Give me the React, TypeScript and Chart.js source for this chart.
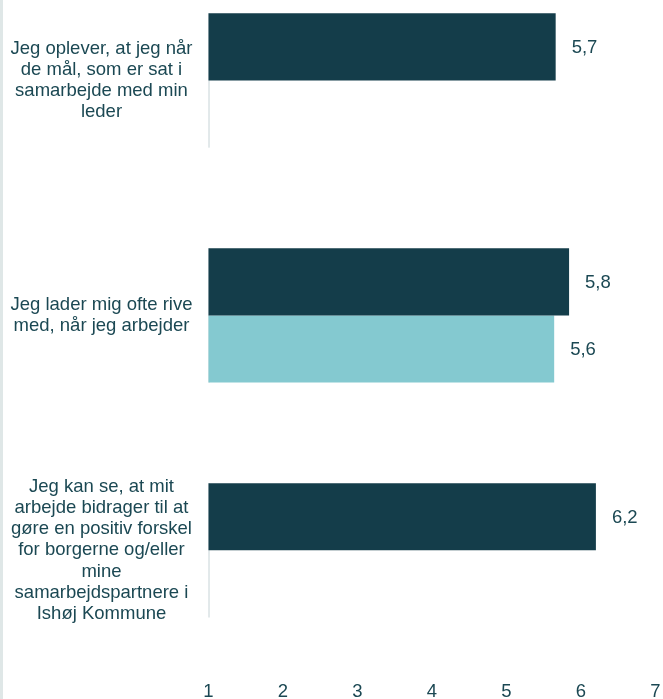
import React, { useEffect, useRef } from "react";
import { Chart, registerables } from "chart.js";

Chart.register(...registerables);

const categories: string[][] = [
  ["Jeg oplever, at jeg når", "de mål, som er sat i", "samarbejde med min", "leder"],
  ["Jeg lader mig ofte rive", "med, når jeg arbejder"],
  [
    "Jeg kan se, at mit",
    "arbejde bidrager til at",
    "gøre en positiv forskel",
    "for borgerne og/eller",
    "mine",
    "samarbejdspartnere i",
    "Ishøj Kommune",
  ],
];
const seriesDark: (number | null)[] = [5.66, 5.84, 6.2];
const seriesLight: (number | null)[] = [null, 5.64, null];
const xTicks: number[] = [1, 2, 3, 4, 5, 6, 7];

const TEXT = "#1b4853";
const FONT = "'Liberation Sans', Arial, sans-serif";

const valueLabels = {
  id: "valueLabels",
  afterDatasetsDraw(chart: any) {
    const ctx = chart.ctx;
    ctx.save();
    ctx.font = `18.5px ${FONT}`;
    ctx.fillStyle = TEXT;
    ctx.textAlign = "left";
    ctx.textBaseline = "middle";
    chart.data.datasets.forEach((ds: any, di: number) => {
      const meta = chart.getDatasetMeta(di);
      meta.data.forEach((el: any, i: number) => {
        const v = ds.data[i];
        if (v === null || v === undefined) return;
        ctx.fillText(v.toFixed(1).replace(".", ","), el.x + 16, el.y + 1);
      });
    });
    ctx.restore();
  },
};

const axisSegments = {
  id: "axisSegments",
  beforeDatasetsDraw(chart: any) {
    const ctx = chart.ctx;
    const ys = chart.scales.y;
    const band = Math.abs(ys.getPixelForValue(1) - ys.getPixelForValue(0));
    const half = (band * 0.572) / 2;
    const x = chart.chartArea.left + 0.5;
    ctx.save();
    ctx.strokeStyle = "#c6d3d6";
    ctx.lineWidth = 1;
    for (let i = 0; i < categories.length; i++) {
      const c = ys.getPixelForValue(i);
      ctx.beginPath();
      ctx.moveTo(x, c - half);
      ctx.lineTo(x, c + half);
      ctx.stroke();
    }
    ctx.restore();
  },
};

export default function App() {
  const ref = useRef<HTMLCanvasElement>(null);
  useEffect(() => {
    if (!ref.current) return;
    const chart = new Chart(ref.current, {
      type: "bar",
      data: {
        labels: categories as any,
        datasets: [
          {
            data: seriesDark,
            backgroundColor: "#143d4a",
            borderWidth: 0,
            barPercentage: 1,
            categoryPercentage: 0.572,
          },
          {
            data: seriesLight,
            backgroundColor: "#84c9d0",
            borderWidth: 0,
            barPercentage: 1,
            categoryPercentage: 0.572,
          },
        ],
      },
      options: {
        indexAxis: "y",
        responsive: false,
        animation: false,
        layout: { padding: { top: 0, right: 7.5, bottom: 0, left: 0 } },
        plugins: {
          legend: { display: false },
          tooltip: { enabled: false },
        },
        scales: {
          x: {
            type: "linear",
            min: 1,
            max: 7,
            afterBuildTicks: (axis: any) => {
              axis.ticks = xTicks.map((v) => ({ value: v }));
            },
            afterFit: (axis: any) => {
              axis.paddingLeft = 0;
              axis.paddingRight = 0;
            },
            grid: { display: false, drawTicks: false },
            border: { display: false },
            ticks: {
              padding: 13,
              color: TEXT,
              font: { family: FONT, size: 18.5, lineHeight: 1.2 },
            },
          },
          y: {
            type: "category",
            grid: { display: false, drawTicks: false },
            border: { display: false },
            afterFit: (axis: any) => {
              axis.width = 208.5;
              axis.paddingTop = 0;
              axis.paddingBottom = 0;
            },
            ticks: {
              crossAlign: "center",
              padding: 16,
              color: TEXT,
              font: { family: FONT, size: 18.5, lineHeight: 1.14 },
            },
          },
        },
      },
      plugins: [axisSegments, valueLabels],
    });
    return () => chart.destroy();
  }, []);
  return (
    <>
      <div
        style={{
          position: "fixed",
          left: 0,
          top: 0,
          width: 3,
          height: 699,
          background: "#dfe7e7",
          zIndex: 1,
        }}
      />
      <div style={{ position: "fixed", left: 0, top: -37, width: 663, height: 753 }}>
        <canvas ref={ref} width={663} height={753} style={{ display: "block" }} />
      </div>
    </>
  );
}
